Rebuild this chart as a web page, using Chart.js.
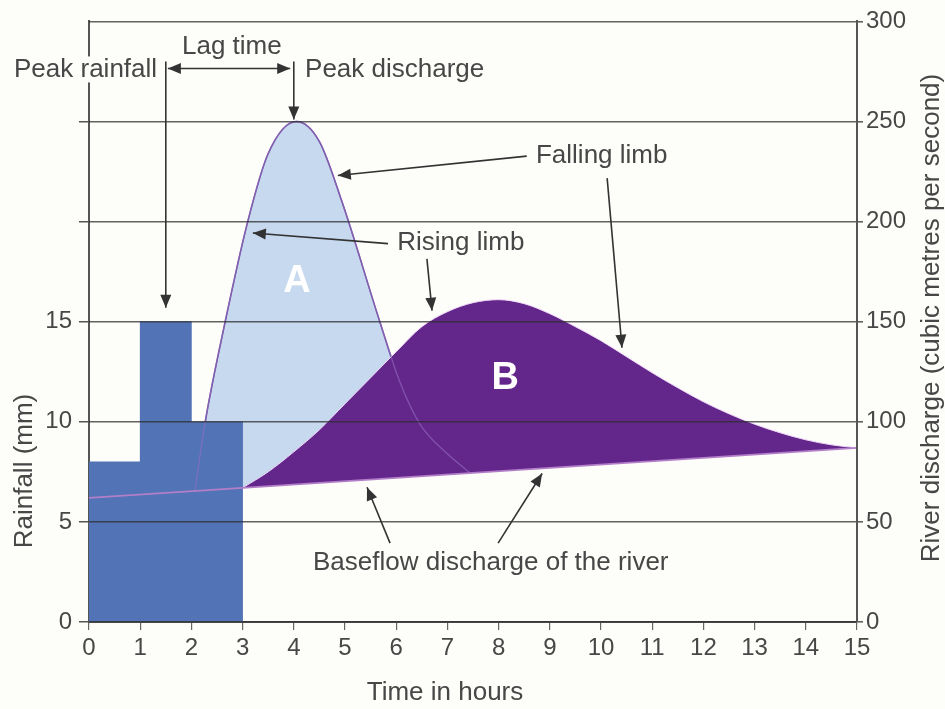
<!DOCTYPE html>
<html>
<head>
<meta charset="utf-8">
<script src="https://cdn.jsdelivr.net/npm/chart.js@4.4.0/dist/chart.umd.min.js"></script>
<style>
  html, body { margin: 0; padding: 0; background: #fdfdfa; }
  #wrap { width: 945px; height: 709px; }
</style>
</head>
<body>
<div id="wrap"><canvas id="hydrograph" width="945" height="709"></canvas></div>
<script>
// Pluie (mm) par heure
const rainHours = [0.5, 1.5, 2.5];
const rainfallMm = [8, 15, 10];

// Débit de base de la rivière
const baseflowHours = [0, 15];
const baseflowDischarge = [62, 87];

// Hydrogramme A (réponse rapide)
const stormAHours = [2.07, 2.27, 2.66, 3.1, 3.5, 4.05, 4.5, 4.94, 5.68, 6.07, 6.46, 7.0, 7.44];
const stormADischarge = [65.8, 100, 150, 200, 234, 250, 240, 210, 150, 120, 99, 84, 74.5];

// Hydrogramme B (réponse lente)
const stormBHours = [3, 3.5, 4, 4.5, 5, 5.5, 6, 6.5, 7, 7.5, 8, 8.5, 9, 9.5, 10, 10.5, 11, 11.5, 12, 12.5, 13, 13.5, 14, 14.5, 15];
const stormBDischarge = [67, 75, 85, 96, 109, 122, 135, 147.5, 155, 159.5, 161, 159, 154, 147.5, 140.5, 132.5, 124.5, 117, 110, 104, 98.8, 94.5, 91, 88.5, 87];

const rainfallTickMax = 15;

const toPoints = (xs, ys) => xs.map((x, i) => ({ x: x, y: ys[i] }));

const FONT = '"Liberation Sans", Arial, Helvetica, sans-serif';
const TEXT = '#474747';
const INK = '#333333';
const BG = '#fdfdfa';

/**
 * Flèche simple (ou double)
 */
function arrow(ctx, x1, y1, x2, y2, both) {
    const head = (ax, ay, bx, by) => {
        const a = Math.atan2(by - ay, bx - ax);
        ctx.beginPath();
        ctx.moveTo(bx, by);
        ctx.lineTo(bx - 13 * Math.cos(a) + 5.5 * Math.sin(a), by - 13 * Math.sin(a) - 5.5 * Math.cos(a));
        ctx.lineTo(bx - 13 * Math.cos(a) - 5.5 * Math.sin(a), by - 13 * Math.sin(a) + 5.5 * Math.cos(a));
        ctx.closePath();
        ctx.fill();
    };
    ctx.beginPath();
    ctx.moveTo(x1, y1);
    ctx.lineTo(x2, y2);
    ctx.stroke();
    head(x1, y1, x2, y2);
    if (both) head(x2, y2, x1, y1);
}

const annotations = {
    id: 'annotations',
    afterDraw(chart) {
        const ctx = chart.ctx;
        const sx = chart.scales.x, sy = chart.scales.y2;
        const px = v => sx.getPixelForValue(v);
        const py = v => sy.getPixelForValue(v);

        ctx.save();
        ctx.strokeStyle = INK;
        ctx.fillStyle = INK;
        ctx.lineWidth = 1.6;

        // Pic de pluie
        arrow(ctx, px(1.5), py(280), px(1.5), py(157));
        // Temps de réponse
        arrow(ctx, px(1.54), py(276.5), px(3.93), py(276.5), true);
        // Pic de débit
        arrow(ctx, px(4), py(280), px(4), py(251));
        // Courbe de décrue
        arrow(ctx, px(8.55), py(232.7), px(4.86), py(223));
        arrow(ctx, px(10.12), py(221.7), px(10.41), py(137));
        // Courbe de crue
        arrow(ctx, px(5.84), py(189), px(3.2), py(194.3));
        arrow(ctx, px(6.6), py(181.4), px(6.7), py(155.5));
        // Débit de base
        arrow(ctx, px(5.88), py(39.4), px(5.43), py(67.3));
        arrow(ctx, px(7.99), py(39.4), px(8.85), py(74.2));

        ctx.font = '26px ' + FONT;
        ctx.textBaseline = 'middle';

        // fond derrière "Peak rainfall" (coupe l'axe gauche)
        const wRain = ctx.measureText('Peak rainfall').width;
        ctx.fillStyle = BG;
        ctx.fillRect(px(1.33) - wRain - 2, py(276) - 13, wRain + 4, 26);

        ctx.fillStyle = TEXT;
        ctx.textAlign = 'right';
        ctx.fillText('Peak rainfall', px(1.33), py(276));
        ctx.textAlign = 'center';
        ctx.fillText('Lag time', px(2.79), py(287.5));
        ctx.textAlign = 'left';
        ctx.fillText('Peak discharge', px(4.22), py(276));
        ctx.fillText('Falling limb', px(8.73), py(232.7));
        ctx.fillText('Rising limb', px(6.02), py(189.3));
        ctx.fillText('Baseflow discharge of the river', px(4.375), py(29.4));

        ctx.fillStyle = '#ffffff';
        ctx.font = 'bold 38px ' + FONT;
        ctx.textAlign = 'center';
        ctx.fillText('A', px(4.06), py(170));
        ctx.fillText('B', px(8.13), py(121.6));

        // Titres des axes
        ctx.fillStyle = TEXT;
        ctx.font = '26px ' + FONT;
        ctx.fillText('Time in hours', 445, 693);
        ctx.save();
        ctx.translate(25, 471);
        ctx.rotate(-Math.PI / 2);
        ctx.fillText('Rainfall (mm)', 0, 0);
        ctx.restore();
        ctx.save();
        ctx.translate(932, 318);
        ctx.rotate(-Math.PI / 2);
        ctx.fillText('River discharge (cubic metres per second)', 0, 0);
        ctx.restore();

        ctx.restore();
    }
};

const ctxHydro = document.getElementById('hydrograph');
new Chart(ctxHydro, {
    type: 'bar',
    data: {
        datasets: [
            {
                type: 'line',
                label: 'Baseflow',
                data: toPoints(baseflowHours, baseflowDischarge),
                yAxisID: 'y2',
                borderColor: '#b27ec8',
                borderWidth: 1.6,
                pointRadius: 0,
                fill: false,
                order: 0
            },
            {
                type: 'line',
                label: 'A',
                data: toPoints(stormAHours, stormADischarge),
                yAxisID: 'y2',
                borderColor: '#6a4a9a',
                borderWidth: 1.6,
                backgroundColor: '#c6d9ee',
                pointRadius: 0,
                cubicInterpolationMode: 'monotone',
                fill: 0,
                order: 4
            },
            {
                type: 'line',
                label: 'B',
                data: toPoints(stormBHours, stormBDischarge),
                yAxisID: 'y2',
                borderColor: 'rgba(240, 215, 248, 1)',
                borderWidth: 1,
                backgroundColor: '#63278b',
                pointRadius: 0,
                cubicInterpolationMode: 'monotone',
                fill: 0,
                order: 3
            },
            {
                type: 'bar',
                label: 'Rainfall',
                data: toPoints(rainHours, rainfallMm),
                yAxisID: 'y',
                backgroundColor: '#5273b5',
                borderWidth: 0,
                barPercentage: 1,
                categoryPercentage: 1,
                order: 2
            },
            {
                type: 'line',
                label: 'A outline',
                data: toPoints(stormAHours, stormADischarge),
                yAxisID: 'y2',
                borderColor: 'rgba(150, 110, 195, 0.6)',
                borderWidth: 1.3,
                pointRadius: 0,
                cubicInterpolationMode: 'monotone',
                fill: false,
                order: 1
            }
        ]
    },
    options: {
        responsive: false,
        animation: false,
        layout: { padding: { top: 20, left: 0, right: 0, bottom: 0 } },
        plugins: {
            legend: { display: false },
            tooltip: { enabled: false }
        },
        scales: {
            x: {
                type: 'linear',
                min: 0,
                max: 15,
                offset: false,
                ticks: {
                    stepSize: 1,
                    color: TEXT,
                    padding: 4,
                    font: { family: FONT, size: 24 }
                },
                grid: { drawOnChartArea: false, offset: false, tickLength: 8, color: '#666', lineWidth: 1.2 },
                border: { color: '#555', width: 2 },
                afterFit: s => { s.height = 87; }
            },
            y: {
                position: 'left',
                min: 0,
                max: 30,
                ticks: {
                    stepSize: 5,
                    color: TEXT,
                    padding: 7,
                    font: { family: FONT, size: 24 },
                    callback: v => (v <= rainfallTickMax ? v : '')
                },
                afterBuildTicks: s => { s.ticks = s.ticks.filter(t => t.value < 30); },
                grid: { drawOnChartArea: false, tickLength: 10, color: '#555', lineWidth: 1.5 },
                border: { color: '#555', width: 2 },
                afterFit: s => { s.width = 89; }
            },
            y2: {
                position: 'right',
                min: 0,
                max: 300,
                ticks: {
                    stepSize: 50,
                    color: TEXT,
                    padding: 3,
                    font: { family: FONT, size: 24 }
                },
                grid: { z: 1, tickLength: 6, color: 'rgba(45, 45, 45, 0.75)', lineWidth: 1.6 },
                border: { z: 1, color: '#555', width: 2 },
                afterFit: s => { s.width = 88; }
            }
        }
    },
    plugins: [annotations]
});
</script>
</body>
</html>
